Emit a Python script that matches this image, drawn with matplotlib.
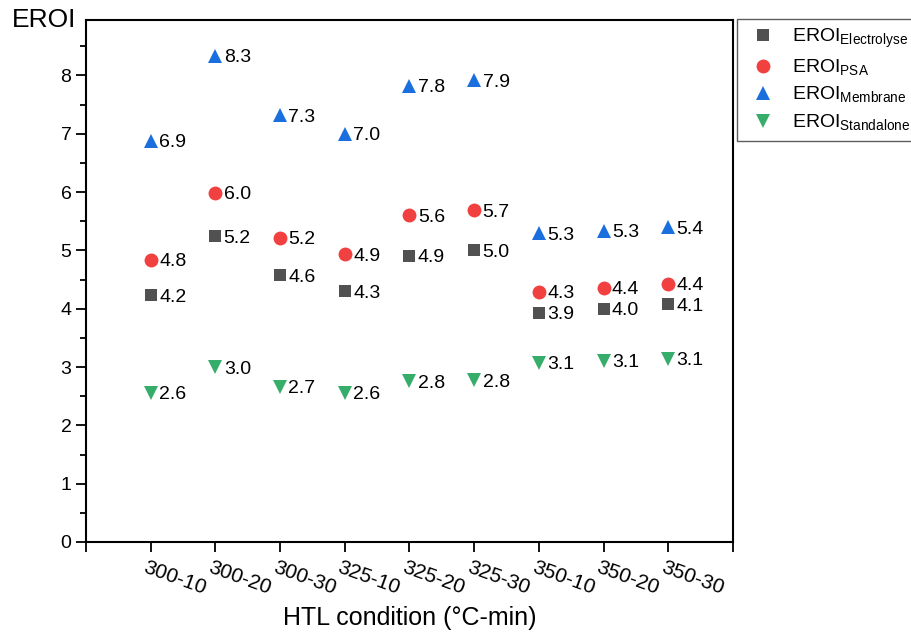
import matplotlib
matplotlib.use("Agg")
import matplotlib.pyplot as plt
import matplotlib.transforms as mtransforms

plt.rcParams['font.family'] = ['Liberation Sans', 'DejaVu Sans']
plt.rcParams['mathtext.fontset'] = 'custom'
plt.rcParams['mathtext.rm'] = 'Liberation Sans'

# HTL conditions (temperature-time)
conditions = ['300-10', '300-20', '300-30', '325-10', '325-20', '325-30',
              '350-10', '350-20', '350-30']

eroi_electrolyse = [4.23, 5.24, 4.57, 4.30, 4.91, 5.00, 3.93, 4.00, 4.08]
eroi_psa = [4.84, 5.99, 5.22, 4.93, 5.60, 5.69, 4.29, 4.36, 4.43]
eroi_membrane = [6.88, 8.34, 7.32, 7.00, 7.82, 7.92, 5.29, 5.34, 5.40]
eroi_standalone = [2.56, 3.00, 2.66, 2.56, 2.76, 2.77, 3.07, 3.11, 3.14]

series = [
    (eroi_electrolyse, 's', '#515151', r'$\mathrm{EROI}_{\mathrm{Electrolyse}}$', 8.5),
    (eroi_psa, 'o', '#F14040', r'$\mathrm{EROI}_{\mathrm{PSA}}$', 10),
    (eroi_membrane, '^', '#1A6FDF', r'$\mathrm{EROI}_{\mathrm{Membrane}}$', 10),
    (eroi_standalone, 'v', '#37AD6B', r'$\mathrm{EROI}_{\mathrm{Standalone}}$', 10),
]

fig = plt.figure(figsize=(9.11, 6.32), dpi=100)
ax = fig.add_axes([86/911, 90/632, 647/911, 522/632])

xpos = list(range(1, len(conditions) + 1))
for vals, mk, col, lab, ms in series:
    ax.plot(xpos, vals, linestyle='none', marker=mk, color=col,
            markersize=ms, markeredgewidth=0, label=lab)
    for x, v in zip(xpos, vals):
        ax.annotate(f'{v:.1f}', (x, v), xytext=(6, 0), textcoords='offset points',
                    ha='left', va='center_baseline', fontsize=14)

ax.set_xlim(0, 10)
ax.set_ylim(0, 8.95)
ax.set_xticks(range(0, 11))
ax.set_yticks(range(0, 9))
ax.set_yticks([i + 0.5 for i in range(0, 9)], minor=True)
ax.tick_params(axis='both', which='major', length=7, width=1.3, labelsize=14,
               direction='out', top=False, right=False)
ax.tick_params(axis='y', which='minor', length=4, width=1.3, direction='out')
ax.set_xticklabels([''] + conditions + [''], fontsize=15, rotation=-20,
                   ha='left', va='top', rotation_mode='anchor')
offset = mtransforms.ScaledTranslation(-3/100, -1/100, fig.dpi_scale_trans)
for t in ax.get_xticklabels():
    t.set_transform(t.get_transform() + offset)
for s in ax.spines.values():
    s.set_linewidth(1.5)

ax.set_xlabel('HTL condition (°C-min)', fontsize=18, labelpad=6)
fig.text(12/911, 1 - 8/632, 'EROI', fontsize=19, ha='left', va='top')

leg = fig.legend(loc='upper left', bbox_to_anchor=(737/911, 1 - 19/632),
                 fontsize=14, frameon=True, fancybox=False, borderpad=0.4,
                 handletextpad=0.55, labelspacing=0.37, handlelength=1.88,
                 borderaxespad=0)
leg.get_frame().set_edgecolor('#333333')
leg.get_frame().set_linewidth(1.0)

fig.savefig('out.png', dpi=100)
